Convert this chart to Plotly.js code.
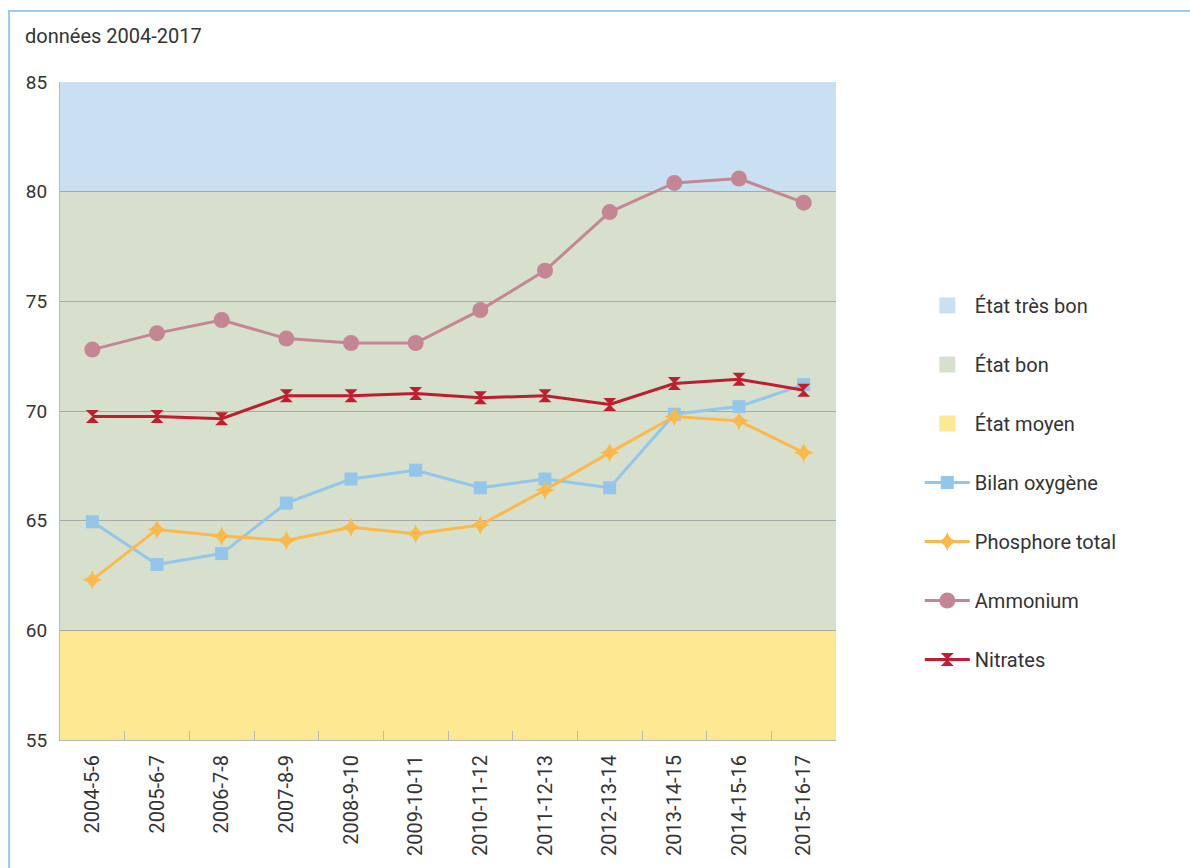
<!DOCTYPE html>
<html>
<head>
<meta charset="utf-8">
<script src="https://cdn.plot.ly/plotly-3.0.1.min.js"></script>
<style>
  body { margin: 0; background: #ffffff; overflow: hidden; }
  #frame { position: absolute; left: 8px; top: 10px; width: 2000px; height: 2000px; border: 2px solid #9dcbee; }
  #plot { position: absolute; left: 0; top: 0; width: 1190px; height: 868px; }
</style>
</head>
<body>
<div id="frame"></div>
<div id="plot"></div>
<script>
// Periods (x axis)
let periods = ['2004-5-6', '2005-6-7', '2006-7-8', '2007-8-9', '2008-9-10', '2009-10-11',
  '2010-11-12', '2011-12-13', '2012-13-14', '2013-14-15', '2014-15-16', '2015-16-17'];

// Series values
let bilanOxygene = [64.95, 63.0, 63.5, 65.8, 66.9, 67.3, 66.5, 66.9, 66.5, 69.85, 70.2, 71.2];
let phosphoreTotal = [62.3, 64.6, 64.3, 64.1, 64.7, 64.4, 64.8, 66.4, 68.1, 69.75, 69.55, 68.1];
let ammonium = [72.8, 73.55, 74.15, 73.3, 73.1, 73.1, 74.6, 76.4, 79.07, 80.4, 80.6, 79.5];
let nitrates = [69.75, 69.75, 69.65, 70.7, 70.7, 70.8, 70.6, 70.7, 70.3, 71.25, 71.45, 70.95];

// Quality bands
let bandNames = ['État très bon', 'État bon', 'État moyen'];
let bandLow = [80, 60, 55];
let bandHigh = [85, 80, 60];
let bandColors = ['#c9e0f3', '#d6e0cc', '#fde991'];

let data = [];

// Legend-only entries for the bands
for (let i = 0; i < bandNames.length; i++) {
  data.push({
    x: [null], y: [null],
    type: 'scatter', mode: 'markers',
    name: bandNames[i], legendgroup: 'g' + i,
    marker: { symbol: 'square', size: 20, color: bandColors[i] }
  });
}

// Line series
let series = [
  { name: 'Bilan oxygène', y: bilanOxygene, color: '#93c6ea', symbol: 'square', size: 13 },
  { name: 'Phosphore total', y: phosphoreTotal, color: '#fbb94c', symbol: 'star-diamond', size: 14 },
  { name: 'Ammonium', y: ammonium, color: '#c48694', symbol: 'circle', size: 16 },
  { name: 'Nitrates', y: nitrates, color: '#be1e2d', symbol: 'hourglass', size: 13 }
];

for (let i = 0; i < series.length; i++) {
  let s = series[i];
  data.push({
    x: periods, y: s.y,
    type: 'scatter', mode: 'lines+markers',
    name: s.name, legendgroup: 's' + i,
    line: { color: s.color, width: 3 },
    marker: { symbol: s.symbol, size: s.size, color: s.color }
  });
}

// Background band shapes
let shapes = [];
for (let i = 0; i < bandNames.length; i++) {
  shapes.push({
    type: 'rect', layer: 'below',
    xref: 'paper', x0: 0, x1: 1,
    yref: 'y', y0: bandLow[i], y1: bandHigh[i],
    fillcolor: bandColors[i], line: { width: 0 }
  });
}

let layout = {
  width: 1190, height: 868,
  margin: { l: 60, r: 354, t: 82, b: 128 },
  paper_bgcolor: 'rgba(0,0,0,0)',
  plot_bgcolor: 'rgba(0,0,0,0)',
  font: { family: 'Roboto, "DejaVu Sans", sans-serif', size: 19, color: '#333333' },
  title: {
    text: 'données 2004-2017',
    xref: 'container', yref: 'container',
    x: 25 / 1190, xanchor: 'left',
    y: 1 - 36 / 868, yanchor: 'middle',
    font: { size: 20, color: '#333333' }
  },
  showlegend: true,
  legend: {
    x: 1.108, xanchor: 'left',
    y: 0.69, yanchor: 'top',
    traceorder: 'grouped',
    tracegroupgap: 30,
    itemwidth: 45,
    font: { size: 20, color: '#333333' },
    bgcolor: 'rgba(0,0,0,0)'
  },
  xaxis: {
    type: 'category',
    range: [-0.5, periods.length - 0.5],
    tickangle: -90,
    ticks: 'inside', ticklen: 9, tickcolor: '#b8b8b8',
    tickson: 'boundaries',
    showline: true, linecolor: '#b8b8b8', linewidth: 1,
    showgrid: false,
    ticklabelstandoff: 6,
    tickfont: { size: 20, color: '#333333' },
    fixedrange: true
  },
  yaxis: {
    range: [55, 85], dtick: 5,
    showline: true, linecolor: '#b8b8b8', linewidth: 1,
    showgrid: true, gridcolor: '#a8a8a8', gridwidth: 1,
    zeroline: false,
    ticks: '', ticklabelstandoff: 8,
    tickfont: { size: 19, color: '#333333' },
    fixedrange: true
  },
  shapes: shapes,
  hovermode: false
};

Plotly.newPlot('plot', data, layout, { displayModeBar: false, staticPlot: true });
</script>
</body>
</html>
